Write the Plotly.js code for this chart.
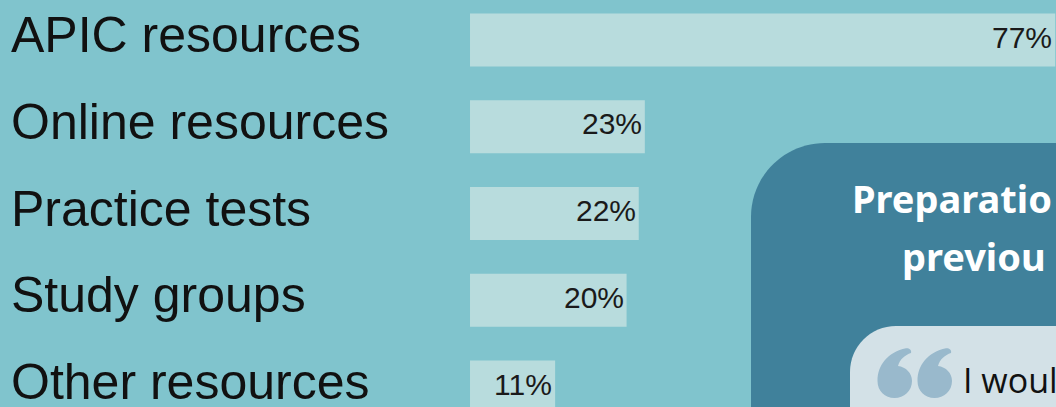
<!DOCTYPE html>
<html><head><meta charset="utf-8">
<script src="https://cdn.plot.ly/plotly-3.0.1.min.js"></script>
<style>html,body{margin:0;padding:0;overflow:hidden;background:#80c4cd}</style>
</head><body><div id="chart" style="width:1056px;height:407px"></div>
<script>
const categories = ["APIC resources","Online resources","Practice tests","Study groups","Other resources"];
const values = [77,23,22.2,20.6,11.2];
const valueLabels = ["77%","23%","22%","20%","11%"];
const W=1056,H=407;
const px=x=>x/W, py=y=>1-y/H;
const P=(x,y)=>`${px(x)} ${py(y)}`;
function roundRect(l,t,r,b,rad){
  const k=rad*0.448;
  return `M ${P(l,b)} L ${P(l,t+rad)} C ${P(l,t+k)} ${P(l+k,t)} ${P(l+rad,t)} L ${P(r,t)} L ${P(r,b)} Z`;
}
function quoteMark(x,y){
  const p=(a,b)=>P(x+a,y+b);
  return `M ${p(0.5,33)} C ${p(0.5,17)} ${p(11,4)} ${p(29,0.3)} C ${p(32,0)} ${p(35,2)} ${p(34,5)} C ${p(28,7)} ${p(23,11)} ${p(21,18)} C ${p(29,19)} ${p(35,25)} ${p(35,33)} C ${p(35,43)} ${p(27,50)} ${p(17.5,50)} C ${p(8,50)} ${p(0.5,43)} ${p(0.5,33)} Z`;
}
const trace={type:'bar',orientation:'h',x:values,y:categories,width:0.61,
  marker:{color:'#b8dcdd',line:{width:0}},cliponaxis:false,hoverinfo:'skip'};
const annotations=categories.map(c=>({text:c,xref:'paper',yref:'y',x:px(9),y:c,yshift:5,xanchor:'left',yanchor:'middle',
  showarrow:false,font:{family:'Liberation Sans',size:50,color:'#111'}}));
categories.forEach((c,i)=>annotations.push({text:valueLabels[i],xref:'x',yref:'y',x:values[i],y:c,xshift:-1,yshift:3,xanchor:'right',yanchor:'middle',
  showarrow:false,font:{family:'Liberation Sans',size:30,color:'#1a1a1a'}}));
annotations.push(
 {text:'<b>Preparatio</b>',xref:'paper',yref:'paper',x:px(850),y:py(198),xanchor:'left',yanchor:'middle',showarrow:false,font:{family:'Noto Sans',size:38,color:'#fff'}},
 {text:'<b>previou</b>',xref:'paper',yref:'paper',x:px(900),y:py(256),xanchor:'left',yanchor:'middle',showarrow:false,font:{family:'Noto Sans',size:38,color:'#fff'}},
 {text:'I woul',xref:'paper',yref:'paper',x:px(961),y:py(380),xanchor:'left',yanchor:'middle',showarrow:false,font:{family:'Open Sans',size:34,color:'#111'}}
);
const layout={width:W,height:H,margin:{l:0,r:0,t:0,b:0},paper_bgcolor:'#80c4cd',plot_bgcolor:'rgba(0,0,0,0)',showlegend:false,
  xaxis:{range:[-61.84,77.1],visible:false,fixedrange:true},
  yaxis:{type:'category',categoryorder:'array',categoryarray:categories,range:[4.23,-0.461],visible:false,fixedrange:true},
  shapes:[
   {type:'path',xref:'paper',yref:'paper',layer:'below',path:roundRect(751,143,1060,412,74),fillcolor:'#40819b',line:{width:0}},
   {type:'path',xref:'paper',yref:'paper',layer:'below',path:roundRect(850,326,1060,412,46),fillcolor:'#d3e1e7',line:{width:0}},
   {type:'path',xref:'paper',yref:'paper',layer:'above',path:quoteMark(877,348),fillcolor:'#99b9cc',line:{width:0}},
   {type:'path',xref:'paper',yref:'paper',layer:'above',path:quoteMark(917,348),fillcolor:'#99b9cc',line:{width:0}}
  ],annotations};
Plotly.newPlot('chart',[trace],layout,{displayModeBar:false,staticPlot:true});
</script></body></html>
